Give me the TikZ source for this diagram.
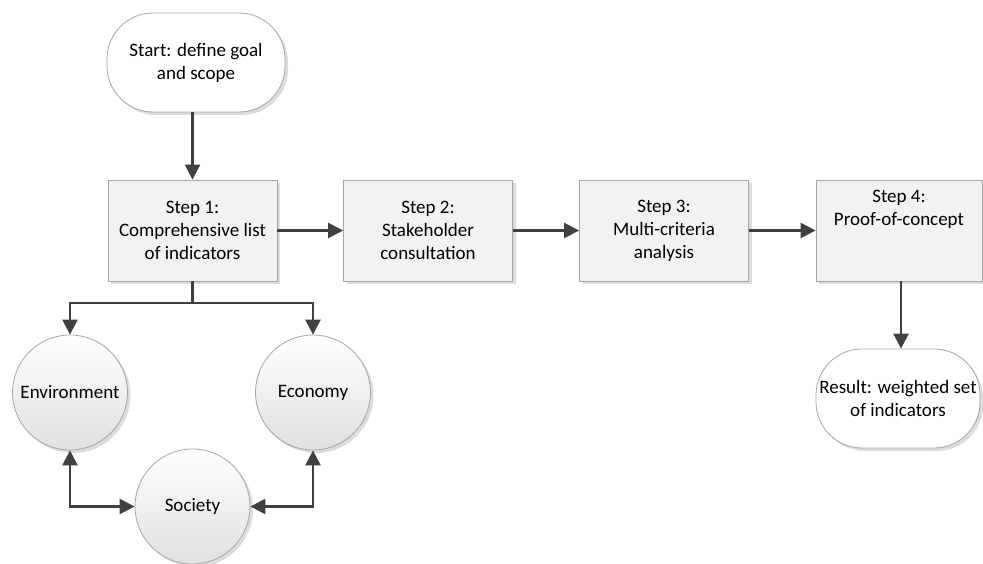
\documentclass[tikz,border=0pt]{standalone}
\usepackage{fontspec}
\setmainfont{Carlito}
\usetikzlibrary{arrows.meta,shadows,calc}
\definecolor{boxfill}{HTML}{F2F2F2}
\definecolor{boxline}{HTML}{A6A6A6}
\definecolor{arrowc}{HTML}{404040}
\definecolor{shadowc}{HTML}{DCDCDC}
\tikzset{
  base/.style={draw=boxline, line width=0.8pt, align=center, inner sep=2pt,
    font=\fontsize{19}{23}\selectfont, text=black,
    drop shadow={shadow xshift=3pt, shadow yshift=-3pt, fill=shadowc, opacity=1}},
  stepbox/.style={base, rectangle, fill=boxfill, minimum width=169pt, minimum height=101pt},
  term/.style={base, rectangle, fill=white, rounded corners=46pt, minimum height=99pt},
  pillar/.style={base, circle, minimum size=115pt, top color=white, bottom color=black!12, inner sep=0pt},
  arr/.style={draw=arrowc, line width=2.5pt, -{Triangle[length=15pt,width=15pt]}},
  darr/.style={draw=arrowc, line width=2.5pt, {Triangle[length=15pt,width=15pt]}-{Triangle[length=15pt,width=15pt]}}
}
\begin{document}
\begin{tikzpicture}[x=1pt,y=-1pt]
\useasboundingbox (0,0) rectangle (983,564);
\node[term, minimum width=178pt] (start) at (196,62.5) {Start: define goal\\and scope};
\node[stepbox] (s1) at (192.5,230.5) {Step 1:\\Comprehensive list\\of indicators};
\node[stepbox] (s2) at (428,230.5) {Step 2:\\Stakeholder\\consultation};
\node[stepbox] (s3) at (664,230.5) {Step 3:\\Multi-criteria\\analysis};
\node[stepbox, minimum width=166pt] (s4) at (899,230.5) {Step 4:\\Proof-of-concept\\[23pt]};
\node[term, minimum width=164pt, rounded corners=46pt] (res) at (898,398.5) {Result: weighted set\\of indicators};
\node[pillar] (env) at (70,392.5) {Environment};
\node[pillar] (eco) at (313,392.5) {Economy};
\node[pillar] (soc) at (192.5,506.5) {Society};
\coordinate (j) at (192.5,303);
\draw[arr] (s1.north |- start.south) -- (s1.north);
\draw[arr] (s1.east) -- (s2.west);
\draw[arr] (s2.east) -- (s3.west);
\draw[arr] (s3.east) -- (s4.west);
\draw[arr] ($(s4.south)+(2,0)$) -- ($(res.north)+(3,0)$);
\draw[draw=arrowc, line width=2.5pt] (s1.south) -- (j);
\draw[arr] (j) -| (env.north);
\draw[arr] (j) -| (eco.north);
\draw[darr] (env.south) |- (soc.west);
\draw[darr] (eco.south) |- (soc.east);
\end{tikzpicture}
\end{document}
